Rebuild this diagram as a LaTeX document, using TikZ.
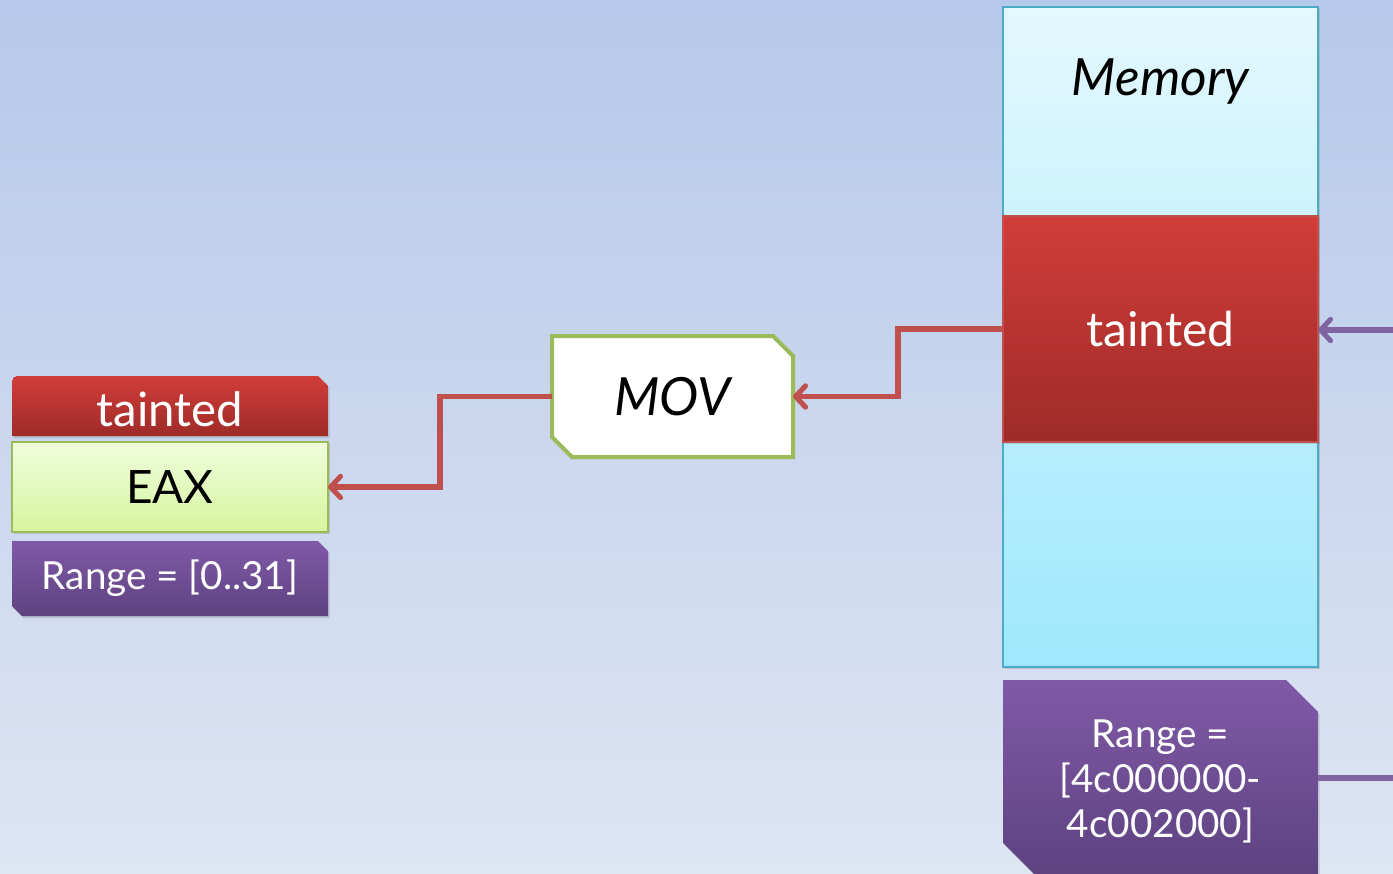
\documentclass[tikz,border=0pt]{standalone}
\usepackage{fontspec}
\setmainfont{Lato}
\usetikzlibrary{arrows.meta,shadows}
\definecolor{bgtop}{HTML}{B6C9EA}
\definecolor{bgbot}{HTML}{DEE5F3}
\definecolor{redtop}{HTML}{D13D39}
\definecolor{redbot}{HTML}{9E2B28}
\definecolor{greentop}{HTML}{F0FDDC}
\definecolor{greenbot}{HTML}{D5F59F}
\definecolor{greenline}{HTML}{9BBB59}
\definecolor{purptop}{HTML}{8159A7}
\definecolor{purpbot}{HTML}{5E4281}
\definecolor{memtop}{HTML}{E4F8FE}
\definecolor{membot}{HTML}{9FE8FC}
\definecolor{memline}{HTML}{4BACC6}
\definecolor{arrred}{HTML}{C0504D}
\definecolor{arrpurp}{HTML}{8064A2}
\pgfdeclarelayer{back}
\pgfdeclarelayer{bg}
\pgfsetlayers{back,bg,main}
\tikzset{
  anchorbox/.style={inner sep=0pt, outer sep=0pt, draw=none, align=center},
  shd/.style={drop shadow={opacity=0.3, shadow xshift=1.2pt, shadow yshift=-1.5pt}},
  redfill/.style={top color=redtop, bottom color=redbot},
  purpfill/.style={top color=purptop, bottom color=purpbot},
  conn/.style={line width=3.8pt, preaction={draw=black!60, opacity=0.18,
    transform canvas={xshift=0.9pt,yshift=-1.2pt}}},
  redconn/.style={conn, draw=arrred, -{Straight Barb[length=7.5pt,width=16pt,round]}},
  purpconn/.style={conn, draw=arrpurp, -{Straight Barb[length=7.5pt,width=16pt,round]}},
  purpline/.style={conn, draw=arrpurp},
  whitetext/.style={text=white},
}
\begin{document}
\begin{tikzpicture}[x=0.75pt,y=0.75pt]
\useasboundingbox (0,0) rectangle (1393,-874);
\begin{pgfonlayer}{back}
\shade[top color=bgtop, bottom color=bgbot] (0,0) rectangle (1393,-874);
\end{pgfonlayer}

% nodes
\node[anchorbox, minimum width=237pt, minimum height=45pt] (ltaint) at (170,-406) {};
\node[anchorbox, whitetext, font=\fontsize{35.5pt}{40pt}\selectfont] (ltainttext) at (170,-409) {tainted};
\node[anchorbox, minimum width=237pt, minimum height=67.5pt,
  font=\fontsize{34.5pt}{40pt}\selectfont] (eax) at (170,-487) {EAX};
\node[anchorbox, minimum width=237pt, minimum height=56.25pt, whitetext,
  font=\fontsize{29pt}{34pt}\selectfont] (lrange) at (170,-578.5) {Range = [0..31]};
\node[anchorbox, minimum width=180.75pt, minimum height=90.75pt,
  font=\fontsize{39.5pt}{44pt}\itshape\selectfont] (mov) at (672.5,-396.5) {MOV};
\node[anchorbox, minimum width=236.25pt, minimum height=495pt] (mem) at (1160.5,-337) {};
\node[anchorbox, font=\fontsize{38.5pt}{44pt}\itshape\selectfont] (memlabel) at (1160.5,-82) {Memory};
\node[anchorbox, minimum width=236.25pt, minimum height=169.5pt, whitetext,
  font=\fontsize{36pt}{40pt}\selectfont] (mtaint) at (1160.5,-329) {tainted};
\node[anchorbox, minimum width=236.25pt, minimum height=146.25pt] (mrange) at (1160.5,-777.5) {};
\node[anchorbox, whitetext, font=\fontsize{29pt}{33.75pt}\selectfont] (mrangetext) at (1160.5,-781)
  {Range =\\{}[4c000000-\\4c002000]};

% shapes
\begin{pgfonlayer}{bg}
\shade[shd, redfill] ([yshift=-4pt]ltaint.north west) arc[start angle=180,end angle=90,radius=4pt]
  -- ([xshift=-7.5pt]ltaint.north east) -- ([yshift=-7.5pt]ltaint.north east)
  -- (ltaint.south east) -- (ltaint.south west) -- cycle;
\shade[shd, top color=greentop, bottom color=greenbot, draw=greenline, line width=1.5pt]
  (eax.north west) rectangle (eax.south east);
\shade[shd, purpfill] (lrange.north west) -- ([xshift=-7.5pt]lrange.north east)
  -- ([yshift=-7.5pt]lrange.north east) -- (lrange.south east)
  -- ([xshift=7.5pt]lrange.south west) -- ([yshift=7.5pt]lrange.south west) -- cycle;
\path[shd, fill=white, draw=greenline, line width=3pt] (mov.north west)
  -- ([xshift=-15pt]mov.north east) -- ([yshift=-15pt]mov.north east)
  -- (mov.south east) -- ([xshift=15pt]mov.south west)
  -- ([yshift=15pt]mov.south west) -- cycle;
\shade[shd, top color=memtop, bottom color=membot, draw=memline, line width=1.2pt]
  (mem.north west) rectangle (mem.south east);
\shade[shd, redfill, draw=arrred, line width=1pt] (mtaint.north west) rectangle (mtaint.south east);
\shade[shd, purpfill] (mrange.north west) -- ([xshift=-24pt]mrange.north east)
  -- ([yshift=-24pt]mrange.north east) -- (mrange.south east)
  -- ([xshift=24pt]mrange.south west) -- ([yshift=24pt]mrange.south west) -- cycle;
\end{pgfonlayer}

% connectors
\coordinate (pin) at (1393,-330);
\coordinate (pout) at (1393,-778);
\draw[redconn] (mtaint.west) -- ([xshift=-78.75pt]mtaint.west) |- (mov.east);
\draw[redconn] (mov.west) -- ([xshift=-84pt]mov.west) |- (eax.east);
\draw[purpconn] (pin) -- (pin -| mtaint.east);
\draw[purpline] (pout) -- (pout -| mrange.east);
\end{tikzpicture}
\end{document}
